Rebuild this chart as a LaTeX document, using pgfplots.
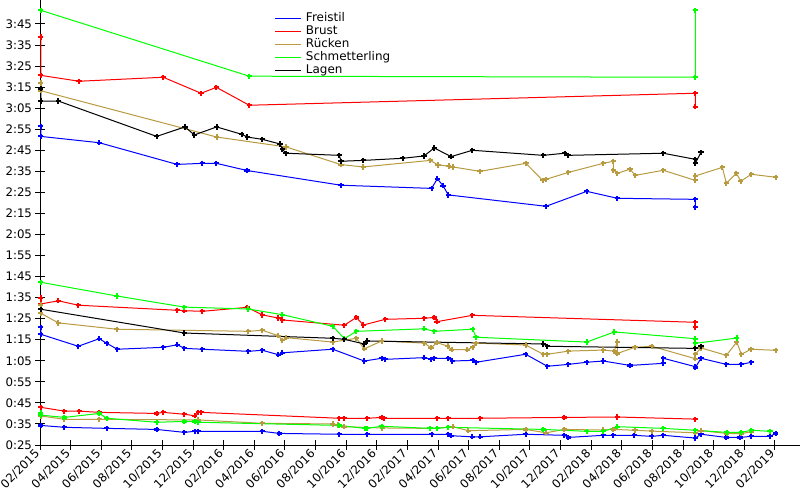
\documentclass[border=0pt]{standalone}
\usepackage{fontspec}
\setmainfont{DejaVu Sans}
\usepackage{pgfplots}
\pgfplotsset{compat=1.18}
\definecolor{cfrei}{RGB}{0,0,255}
\definecolor{cbrust}{RGB}{255,0,0}
\definecolor{cruck}{RGB}{184,155,64}
\definecolor{cschm}{RGB}{0,255,0}
\definecolor{clagen}{RGB}{0,0,0}
\begin{document}
\begin{tikzpicture}
\path[use as bounding box] (-40bp,-55bp) rectangle (760bp,445bp);
\begin{axis}[
  scale only axis, width=760bp, height=445bp,
  xmin=0, xmax=49.64, ymin=25, ymax=236.4,
  axis lines=left, axis line style={-, line width=1bp, black},
  tick align=center, major tick length=9bp,
  tick style={line width=1bp, black},
  xtick={0,2,...,48},
  xticklabels={02/2015,04/2015,06/2015,08/2015,10/2015,12/2015,02/2016,04/2016,06/2016,08/2016,10/2016,12/2016,02/2017,04/2017,06/2017,08/2017,10/2017,12/2017,02/2018,04/2018,06/2018,08/2018,10/2018,12/2018,02/2019},
  ytick={25,35,...,225},
  yticklabels={0:25,0:35,0:45,0:55,1:05,1:15,1:25,1:35,1:45,1:55,2:05,2:15,2:25,2:35,2:45,2:55,3:05,3:15,3:25,3:35,3:45},
  /pgf/number format/assume math mode=true,
  ticklabel style={font=\fontsize{11.8}{13}\selectfont},
  xticklabel style={rotate=45, anchor=east},
  every axis plot/.append style={line width=1bp, mark=+, mark size=2.6bp, mark options={line width=2.2bp, solid}},
  legend cell align=left,
  legend image code/.code={\draw[#1] (0bp,0bp) -- (26bp,0bp);},
  legend style={draw=none, fill=none, at={(0.3092,0.973)}, anchor=north west, inner sep=0pt, outer sep=0pt, row sep=0pt, column sep=4bp, font=\fontsize{12}{13}\selectfont, nodes={inner sep=0pt, text height=9.5bp, text depth=3.5bp}},
]
% Freistil
\addplot[color=cfrei] coordinates {(0.05,34.3) (1.59,33.4) (4.36,32.9) (7.62,32.4) (9.43,31.0) (10.10,31.5) (10.34,31.5) (14.52,31.5) (15.63,30.5) (19.55,30.1) (21.38,30.1) (25.58,30.1) (26.67,30.1) (26.85,29.4) (28.24,28.9) (28.76,28.9) (31.72,30.1) (34.25,29.6) (34.51,28.6) (36.79,29.6) (37.45,29.6) (38.82,29.6) (39.95,29.1) (40.71,29.6) (42.80,28.3) (43.17,30.1) (44.83,28.6) (45.72,28.6) (46.46,29.1) (47.68,29.1) (48.05,30.5)};
\addlegendentry{Freistil}
\addplot[color=cfrei, forget plot] coordinates {(0.05,80.9) (0.05,77.6) (2.50,71.9) (3.87,75.5) (4.36,73.3) (5.05,70.5) (8.05,71.4) (8.97,72.6) (9.43,70.9) (10.60,70.5) (13.61,69.5) (14.52,70.0) (15.57,67.9) (15.83,68.8) (19.12,70.5) (21.18,64.9) (22.32,66.2) (22.55,65.7) (25.10,66.5) (25.52,65.8) (25.75,66.2) (26.67,66.2) (26.93,64.9) (28.26,65.2) (28.48,64.3) (31.72,68.1) (33.14,62.4) (34.51,63.3) (35.71,64.3) (36.79,64.9) (38.54,62.8) (40.71,63.8) (40.71,66.2) (42.80,62.2) (42.80,61.7) (43.17,66.2) (44.83,63.3) (45.81,63.3) (46.46,64.3)};
\addplot[color=cfrei, forget plot] coordinates {(0.05,176.4) (0.05,171.6) (3.87,168.6) (8.95,158.3) (10.60,158.8) (11.52,158.8) (13.52,155.4) (19.66,148.4) (25.58,146.9) (25.95,151.5) (26.32,148.2) (26.67,143.8) (33.05,138.4) (35.71,145.5) (37.71,142.2) (42.80,141.7) (42.80,137.9)};
% Brust
\addplot[color=cbrust] coordinates {(0.05,42.9) (1.59,41.1) (2.57,41.1) (3.87,40.5) (7.62,40.0) (8.05,40.5) (9.43,39.6) (10.10,38.9) (10.34,40.5) (10.54,40.5) (19.55,37.7) (19.86,37.7) (21.38,37.7) (22.32,38.1) (22.49,37.7) (25.95,37.7) (26.67,37.7) (28.76,37.7) (34.25,38.1) (37.71,38.3) (42.80,37.3)};
\addlegendentry{Brust}
\addplot[color=cbrust, forget plot] coordinates {(0.05,94.8) (0.05,92.0) (1.20,93.5) (2.50,91.4) (8.97,89.0) (9.43,88.8) (10.60,88.5) (13.54,90.4) (14.52,86.8) (15.57,85.3) (15.83,84.4) (19.88,81.9) (20.66,85.6) (21.12,82.0) (22.55,84.7) (25.10,85.2) (25.75,85.6) (25.93,83.6) (28.24,86.6) (42.80,83.3) (42.80,80.9)};
\addplot[color=cbrust, forget plot] coordinates {(0.05,218.8) (0.05,200.6) (2.55,197.8) (8.05,199.7) (10.52,192.1) (11.52,194.9) (13.67,186.4) (42.80,192.1) (42.80,185.7)};
% Ruecken
\addplot[color=cruck] coordinates {(0.05,38.8) (1.59,37.2) (3.87,37.2) (10.34,36.9) (14.52,35.3) (19.12,35.0) (19.45,34.5) (19.86,33.7) (22.36,33.1) (25.47,32.9) (26.67,33.4) (26.96,33.7) (27.98,31.8) (31.72,32.4) (33.05,30.8) (34.25,32.4) (36.79,32.1) (37.45,32.4) (38.86,32.0) (39.95,31.6) (42.80,30.8) (43.17,31.8) (44.85,30.5) (45.81,30.4) (46.46,31.3)};
\addlegendentry{Rücken}
\addplot[color=cruck, forget plot] coordinates {(0.05,91.6) (0.05,87.6) (1.20,83.0) (5.01,80.0) (13.61,79.0) (14.52,79.5) (15.57,76.9) (15.83,74.7) (16.09,76.0) (19.12,73.9) (20.66,75.7) (21.18,70.7) (22.32,74.4) (25.10,73.4) (25.54,71.2) (25.93,73.6) (26.63,72.0) (26.89,70.3) (27.91,70.3) (28.26,71.4) (28.48,73.4) (31.72,72.5) (32.87,68.1) (33.14,68.1) (34.51,69.6) (36.79,70.1) (37.51,69.6) (37.71,74.1) (37.71,68.5) (38.86,71.4) (39.95,71.9) (42.80,66.0) (42.80,68.1) (43.17,71.1) (44.83,67.6) (45.51,73.9) (45.81,68.1) (46.44,70.5) (48.05,70.0)};
\addplot[color=cruck, forget plot] coordinates {(0.05,197.0) (0.05,193.3) (11.54,171.3) (16.07,166.6) (19.66,158.2) (21.12,157.1) (25.49,160.2) (26.00,158.0) (26.69,157.5) (26.96,157.1) (28.74,155.0) (31.74,158.8) (32.83,150.7) (33.05,151.2) (34.51,154.5) (36.79,158.8) (37.45,159.8) (37.45,155.5) (37.71,154.1) (38.54,156.0) (38.88,153.1) (40.71,155.5) (42.80,150.7) (42.80,152.8) (44.57,156.9) (44.83,149.3) (45.48,154.1) (45.77,150.3) (46.46,153.6) (48.05,152.2)};
% Schmetterling
\addplot[color=cschm] coordinates {(0.05,40.2) (0.05,39.2) (1.59,38.1) (3.87,40.0) (4.36,37.7) (7.62,35.8) (9.43,36.2) (10.10,36.2) (10.34,35.8) (19.55,34.3) (21.23,32.9) (21.38,32.9) (22.32,33.9) (25.47,32.9) (25.95,32.9) (26.67,33.4) (32.87,32.4) (35.71,31.5) (36.79,31.5) (37.71,33.7) (40.71,32.9) (42.80,32.0) (44.85,31.0) (45.81,31.0) (46.46,32.0) (47.68,31.5)};
\addlegendentry{Schmetterling}
\addplot[color=cschm, forget plot] coordinates {(0.05,102.3) (5.01,95.8) (9.43,90.5) (13.61,89.6) (15.83,86.9) (19.12,81.4) (19.88,75.5) (20.66,79.0) (25.10,80.2) (25.75,79.0) (28.26,80.0) (28.48,76.2) (35.71,73.9) (37.51,78.7) (42.80,75.5) (42.80,73.3) (45.51,75.8)};
\addplot[color=cschm, forget plot] coordinates {(0.05,231.5) (13.67,200.2) (42.80,199.7) (42.80,231.5)};
% Lagen
\addplot[color=clagen] coordinates {(0.05,89.5) (9.43,78.2) (19.12,75.7) (19.88,75.2) (21.18,73.0) (21.38,74.4) (32.87,73.0) (33.14,71.9) (42.80,70.9) (43.17,71.9)};
\addlegendentry{Lagen}
\addplot[color=clagen, forget plot] coordinates {(0.05,194.3) (0.05,188.4) (1.20,188.4) (7.62,171.6) (9.47,176.1) (10.08,172.3) (11.54,176.1) (13.17,172.6) (13.54,171.3) (14.52,170.2) (15.68,168.0) (15.83,165.5) (16.07,163.6) (19.55,162.6) (19.66,159.8) (21.12,160.2) (23.69,161.2) (25.08,162.3) (25.75,166.1) (26.85,162.0) (28.24,165.0) (32.87,162.6) (34.27,163.6) (34.51,162.6) (40.71,163.6) (42.80,160.7) (42.80,158.8) (43.17,164.0)};
\end{axis}
\end{tikzpicture}
\end{document}
